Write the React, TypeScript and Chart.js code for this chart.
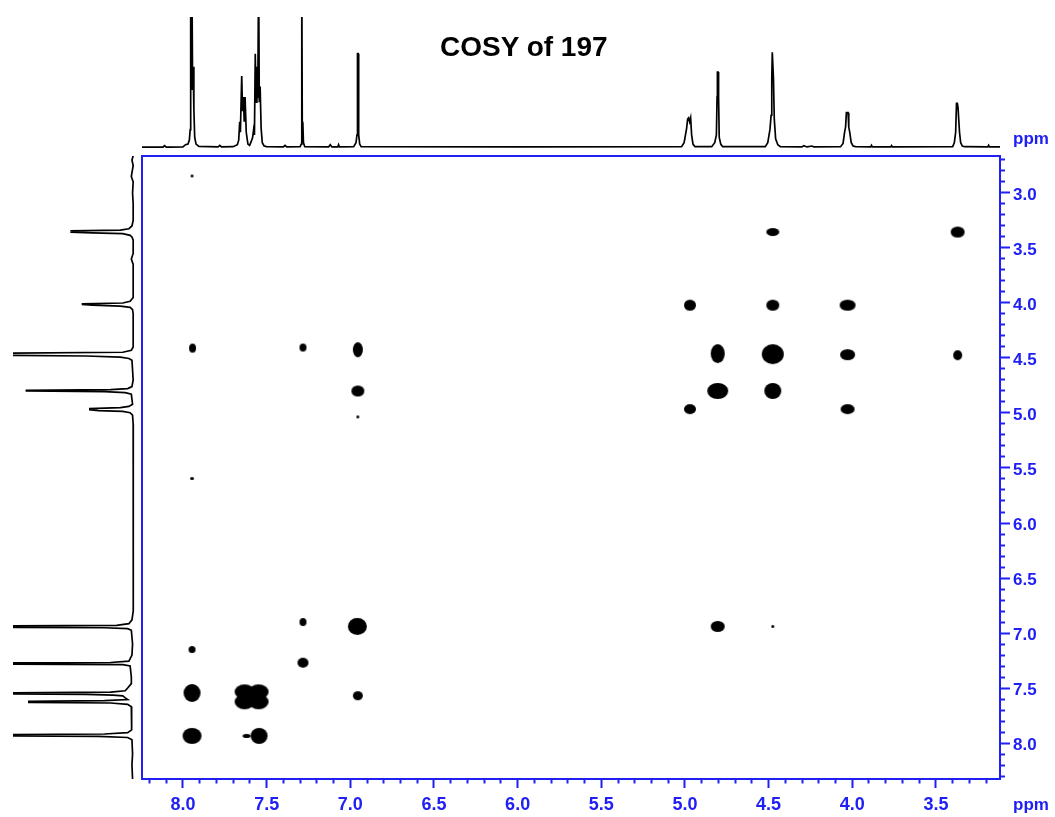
import React, { useEffect, useRef } from "react";
import { Chart, registerables } from "chart.js";

Chart.register(...registerables);

// ---------- Axis ranges (ppm) ----------
const F2_MIN = 3.117;
const F2_MAX = 8.245;
const F1_MIN = 2.664;
const F1_MAX = 8.327;

// ---------- Tick labels ----------
const xMajorTicks = [8.0, 7.5, 7.0, 6.5, 6.0, 5.5, 5.0, 4.5, 4.0, 3.5];
const yMajorTicks = [3.0, 3.5, 4.0, 4.5, 5.0, 5.5, 6.0, 6.5, 7.0, 7.5, 8.0];
const xTickFrom = 8.2;
const xTickTo = 3.2;
const yTickFrom = 2.7;
const yTickTo = 8.3;

// ---------- COSY cross peaks (F2 ppm, F1 ppm, widths in ppm) ----------
const crossF2 = [
  7.946, 4.475, 3.37, 4.97, 4.475, 4.028, 7.943, 7.283, 6.955, 4.804, 4.475, 4.028,
  3.37, 6.955, 4.804, 4.475, 4.97, 4.028, 6.955, 7.946, 7.283, 6.958, 4.804, 4.475,
  7.946, 7.283, 7.946, 7.632, 7.548, 7.632, 7.548, 6.955, 7.946, 7.545, 7.62,
];
const crossF1 = [
  2.845, 3.355, 3.355, 4.02, 4.02, 4.02, 4.41, 4.405, 4.425, 4.46, 4.465, 4.47,
  4.475, 4.8, 4.8, 4.8, 4.965, 4.965, 5.035, 5.595, 6.9, 6.94, 6.94, 6.94,
  7.15, 7.27, 7.545, 7.535, 7.535, 7.625, 7.625, 7.57, 7.935, 7.935, 7.935,
];
const crossWidthF2 = [
  0.018, 0.08, 0.086, 0.074, 0.08, 0.098, 0.044, 0.044, 0.062, 0.086, 0.133, 0.092,
  0.056, 0.08, 0.128, 0.104, 0.074, 0.086, 0.018, 0.024, 0.044, 0.116, 0.086, 0.018,
  0.044, 0.068, 0.104, 0.12, 0.12, 0.12, 0.12, 0.062, 0.116, 0.104, 0.05,
];
const crossWidthF1 = [
  0.027, 0.075, 0.102, 0.102, 0.102, 0.102, 0.084, 0.075, 0.138, 0.175, 0.184, 0.102,
  0.093, 0.102, 0.147, 0.147, 0.093, 0.093, 0.027, 0.027, 0.075, 0.157, 0.102, 0.027,
  0.066, 0.093, 0.166, 0.14, 0.14, 0.14, 0.14, 0.084, 0.147, 0.147, 0.038,
];

// ---------- 1D projection along F2 (top): [ppm, intensity %] ----------
const topSpectrum: [number, number][] = [
  [8.245, 0.6], [8.12, 0.6], [8.11, 1.8], [8.1, 0.6], [8.0, 0.8], [7.985, 2.5], [7.97, 3],
  [7.962, 6], [7.957, 14], [7.954, 135], [7.95, 45], [7.947, 135], [7.943, 55], [7.939, 62],
  [7.935, 30], [7.93, 8], [7.922, 3], [7.905, 1.2], [7.79, 0.8], [7.78, 2], [7.77, 0.8],
  [7.7, 1], [7.675, 2.5], [7.667, 6], [7.661, 20], [7.657, 12], [7.649, 55], [7.644, 28],
  [7.639, 39], [7.634, 20], [7.629, 39], [7.622, 12], [7.612, 3], [7.602, 2], [7.592, 5],
  [7.584, 8], [7.578, 14], [7.573, 10], [7.568, 72], [7.563, 35], [7.558, 62], [7.553, 38],
  [7.548, 135], [7.544, 35], [7.539, 47], [7.533, 15], [7.526, 4], [7.515, 1.5], [7.5, 1],
  [7.4, 0.8], [7.39, 2], [7.38, 0.8], [7.3, 1], [7.293, 3], [7.29, 135], [7.287, 12],
  [7.284, 20], [7.28, 4], [7.272, 1], [7.13, 0.8], [7.12, 2.5], [7.11, 0.8], [7.075, 0.8],
  [7.07, 2.5], [7.065, 0.8], [6.98, 1], [6.966, 4], [6.96, 10], [6.957, 72], [6.953, 72],
  [6.95, 10], [6.944, 3], [6.935, 1], [6.0, 0.8], [5.02, 1], [5.005, 4], [4.99, 15],
  [4.984, 22], [4.978, 23], [4.972, 20], [4.966, 23], [4.96, 10], [4.952, 3], [4.94, 1],
  [4.84, 1], [4.822, 4], [4.812, 10], [4.808, 39], [4.806, 58], [4.802, 58], [4.799, 39],
  [4.795, 8], [4.786, 3], [4.775, 1], [4.52, 1], [4.505, 4], [4.492, 14], [4.485, 25],
  [4.481, 53], [4.478, 73], [4.474, 73], [4.471, 53], [4.466, 22], [4.458, 7], [4.445, 2.5],
  [4.43, 1], [4.3, 0.8], [4.29, 1.8], [4.27, 0.8], [4.24, 1.5], [4.23, 0.8], [4.07, 1],
  [4.055, 3.5], [4.046, 12], [4.04, 16], [4.035, 27], [4.03, 27], [4.025, 27], [4.021, 16],
  [4.015, 12], [4.006, 4], [3.995, 1.5], [3.98, 1], [3.89, 0.8], [3.885, 2], [3.88, 0.8],
  [3.77, 0.8], [3.765, 1.8], [3.76, 0.8], [3.4, 1], [3.39, 4], [3.382, 12], [3.377, 34],
  [3.372, 34], [3.368, 31], [3.364, 31], [3.359, 12], [3.352, 4], [3.342, 1.5], [3.33, 1],
  [3.19, 0.8], [3.185, 2], [3.18, 0.8], [3.117, 0.8],
];

// ---------- 1D projection along F1 (left): [ppm, intensity %] ----------
const leftSpectrum: [number, number][] = [
  [2.664, 1.5], [2.7, 2.5], [2.75, 1.5], [2.85, 3], [2.9, 1.5], [3.0, 2], [3.1, 1.5],
  [3.25, 1.5], [3.3, 2.5], [3.325, 5], [3.338, 12], [3.345, 53], [3.35, 48], [3.356, 53],
  [3.362, 35], [3.37, 10], [3.385, 4], [3.4, 2.5], [3.43, 1.5], [3.55, 1.5], [3.6, 3],
  [3.65, 1.5], [3.95, 1.5], [3.985, 4], [4.0, 10], [4.008, 43], [4.014, 43], [4.02, 35],
  [4.028, 12], [4.04, 4], [4.06, 2], [4.1, 1.5], [4.4, 1.5], [4.43, 3], [4.448, 10],
  [4.458, 135], [4.466, 135], [4.474, 135], [4.482, 40], [4.492, 12], [4.505, 5], [4.52, 2.5],
  [4.7, 1.5], [4.76, 2.5], [4.778, 6], [4.788, 20], [4.794, 89], [4.8, 89], [4.806, 25],
  [4.815, 8], [4.83, 3], [4.92, 2], [4.94, 5], [4.952, 12], [4.96, 37], [4.97, 37],
  [4.978, 30], [4.986, 10], [4.998, 4], [5.02, 2], [5.1, 1.5], [5.5, 1.2], [6.0, 1.5],
  [6.5, 1.5], [6.8, 1.5], [6.88, 2.5], [6.915, 5], [6.93, 15], [6.938, 135], [6.946, 135],
  [6.952, 25], [6.96, 6], [6.975, 3], [7.1, 2], [7.2, 2.5], [7.255, 5], [7.268, 20],
  [7.274, 135], [7.281, 135], [7.287, 10], [7.3, 4], [7.4, 3], [7.46, 3], [7.5, 6],
  [7.525, 8], [7.538, 20], [7.545, 135], [7.552, 135], [7.558, 40], [7.565, 18], [7.572, 10],
  [7.59, 8], [7.605, 6], [7.615, 25], [7.622, 87], [7.63, 87], [7.636, 20], [7.648, 6],
  [7.67, 3], [7.8, 2.5], [7.88, 3], [7.905, 6], [7.918, 25], [7.926, 135], [7.934, 135],
  [7.94, 30], [7.95, 6], [7.97, 2.5], [8.1, 2], [8.2, 2.5], [8.327, 2],
];

// ---------- Styles ----------
const BLUE = "#2020f5";
const FONT = "'Liberation Sans', Arial, sans-serif";

function tickRange(from: number, to: number): number[] {
  const out: number[] = [];
  const a = Math.round(Math.min(from, to) * 10);
  const b = Math.round(Math.max(from, to) * 10);
  for (let k = a; k <= b; k++) out.push(k / 10);
  return out;
}

function isMajor(v: number, majors: number[]) {
  return majors.some((m) => Math.abs(m - v) < 1e-6);
}

const blobCache = new Map<string, HTMLCanvasElement>();
function blob(w: number, h: number): HTMLCanvasElement {
  const W = Math.max(2, Math.round(w));
  const H = Math.max(2, Math.round(h));
  const key = W + "x" + H;
  let c = blobCache.get(key);
  if (!c) {
    c = document.createElement("canvas");
    c.width = W + 2;
    c.height = H + 2;
    const g = c.getContext("2d")!;
    g.fillStyle = "#000";
    g.beginPath();
    g.ellipse((W + 2) / 2, (H + 2) / 2, W / 2, H / 2, 0, 0, Math.PI * 2);
    g.fill();
    blobCache.set(key, c);
  }
  return c;
}

export default function App() {
  const mainRef = useRef<HTMLCanvasElement>(null);
  const topRef = useRef<HTMLCanvasElement>(null);
  const leftRef = useRef<HTMLCanvasElement>(null);

  useEffect(() => {
    const xTicks = tickRange(xTickFrom, xTickTo);
    const yTicks = tickRange(yTickFrom, yTickTo);

    const tickFont = (size: number) => ({ family: FONT, size, weight: "bold" as const });

    const main = new Chart(mainRef.current!, {
      type: "scatter",
      data: {
        datasets: [
          {
            data: crossF2.map((x, i) => ({ x, y: crossF1[i] })),
            pointRadius: 5,
            pointHoverRadius: 5,
            backgroundColor: "#000",
            borderColor: "#000",
            borderWidth: 0,
            pointStyle: (ctx: any) => {
              const i = ctx.dataIndex;
              const xs = ctx.chart.scales.x;
              const ys = ctx.chart.scales.y;
              if (i === undefined || !xs || !ys || !xs.width || !ys.height) return "circle";
              const w = Math.abs(
                xs.getPixelForValue(crossF2[i] - crossWidthF2[i] / 2) -
                  xs.getPixelForValue(crossF2[i] + crossWidthF2[i] / 2)
              );
              const h = Math.abs(
                ys.getPixelForValue(crossF1[i] - crossWidthF1[i] / 2) -
                  ys.getPixelForValue(crossF1[i] + crossWidthF1[i] / 2)
              );
              if (!isFinite(w) || !isFinite(h)) return "circle";
              return blob(w, h);
            },
          } as any,
        ],
      },
      options: {
        animation: false,
        responsive: false,
        maintainAspectRatio: false,
        events: [],
        layout: { padding: { left: 142, top: 156, right: 0, bottom: 0 }, autoPadding: false },
        plugins: { legend: { display: false }, tooltip: { enabled: false }, title: { display: false } },
        scales: {
          x: {
            type: "linear",
            position: "bottom",
            reverse: true,
            min: F2_MIN,
            max: F2_MAX,
            afterBuildTicks: (s: any) => {
              s.ticks = xTicks.map((v) => ({ value: v }));
            },
            afterFit: (s: any) => {
              s.height = 38;
            },
            ticks: {
              autoSkip: false,
              maxRotation: 0,
              minRotation: 0,
              padding: 6,
              color: BLUE,
              font: tickFont(18),
              callback: (v: any) => (isMajor(Number(v), xMajorTicks) ? Number(v).toFixed(1) : ""),
            },
            grid: {
              display: true,
              drawOnChartArea: false,
              drawTicks: true,
              tickLength: 9,
              tickColor: BLUE,
              tickWidth: 2,
              tickBorderDash: (ctx: any) =>
                ctx.tick && isMajor(ctx.tick.value, xMajorTicks) ? [] : [3.5, 60],
            },
            border: { display: true, color: BLUE, width: 2 },
          },
          y: {
            type: "linear",
            position: "right",
            reverse: true,
            min: F1_MIN,
            max: F1_MAX,
            afterBuildTicks: (s: any) => {
              s.ticks = yTicks.map((v) => ({ value: v }));
            },
            afterFit: (s: any) => {
              s.width = 55;
            },
            ticks: {
              autoSkip: false,
              padding: 3,
              labelOffset: 2,
              color: BLUE,
              font: tickFont(17),
              callback: (v: any) => (isMajor(Number(v), yMajorTicks) ? Number(v).toFixed(1) : ""),
            },
            grid: {
              display: true,
              drawOnChartArea: false,
              drawTicks: true,
              tickLength: 10,
              tickColor: BLUE,
              tickWidth: 2,
              tickBorderDash: (ctx: any) =>
                ctx.tick && isMajor(ctx.tick.value, yMajorTicks) ? [] : [4, 60],
            },
            border: { display: true, color: BLUE, width: 2 },
          },
          xTop: {
            type: "linear",
            axis: "x",
            position: "top",
            afterFit: (s: any) => {
              s.height = 0;
            },
            ticks: { display: false },
            grid: { display: true, drawOnChartArea: false, drawTicks: false },
            border: { display: true, color: BLUE, width: 2 },
          },
          yLeft: {
            type: "linear",
            axis: "y",
            position: "left",
            afterFit: (s: any) => {
              s.width = 0;
            },
            ticks: { display: false },
            grid: { display: true, drawOnChartArea: false, drawTicks: false },
            border: { display: true, color: BLUE, width: 2 },
          },
        } as any,
      },
    });

    const top = new Chart(topRef.current!, {
      type: "scatter",
      data: {
        datasets: [
          {
            data: topSpectrum.map(([x, y]) => ({ x, y })),
            showLine: true,
            borderColor: "#000",
            borderWidth: 1.7,
            pointRadius: 0,
            tension: 0,
          } as any,
        ],
      },
      options: {
        animation: false,
        responsive: false,
        maintainAspectRatio: false,
        events: [],
        layout: { padding: { left: 142, right: 55, top: 17, bottom: 7 }, autoPadding: false },
        plugins: { legend: { display: false }, tooltip: { enabled: false } },
        scales: {
          x: { type: "linear", display: false, reverse: true, min: F2_MIN, max: F2_MAX },
          y: { type: "linear", display: false, min: 0, max: 100 },
        },
      },
    });

    const left = new Chart(leftRef.current!, {
      type: "scatter",
      data: {
        datasets: [
          {
            data: leftSpectrum.map(([p, v]) => ({ x: v, y: p })),
            showLine: true,
            borderColor: "#000",
            borderWidth: 1.7,
            pointRadius: 0,
            tension: 0,
          } as any,
        ],
      },
      options: {
        animation: false,
        responsive: false,
        maintainAspectRatio: false,
        events: [],
        layout: { padding: { left: 13, right: 7, top: 156, bottom: 38 }, autoPadding: false },
        plugins: { legend: { display: false }, tooltip: { enabled: false } },
        scales: {
          x: { type: "linear", display: false, reverse: true, min: 0, max: 100 },
          y: { type: "linear", display: false, reverse: true, min: F1_MIN, max: F1_MAX },
        },
      },
    });

    return () => {
      main.destroy();
      top.destroy();
      left.destroy();
    };
  }, []);

  const abs = (l: number, t: number, w: number, h: number): React.CSSProperties => ({
    position: "absolute",
    left: l,
    top: t,
    width: w,
    height: h,
  });

  return (
    <div style={{ position: "absolute", left: 0, top: 0, width: 1055, height: 817, background: "#fff", overflow: "hidden" }}>
      <canvas ref={topRef} width={1055} height={155} style={abs(0, 0, 1055, 155)} />
      <canvas ref={leftRef} width={142} height={817} style={abs(0, 0, 142, 817)} />
      <canvas ref={mainRef} width={1055} height={817} style={abs(0, 0, 1055, 817)} />
      <div
        style={{
          position: "absolute",
          left: 440,
          top: 33,
          fontFamily: FONT,
          fontWeight: "bold",
          fontSize: 28,
          lineHeight: "28px",
          color: "#000",
          whiteSpace: "nowrap",
        }}
      >
        COSY of 197
      </div>
      <div
        style={{
          position: "absolute",
          left: 1013,
          top: 130,
          fontFamily: FONT,
          fontWeight: "bold",
          fontSize: 17,
          lineHeight: "17px",
          color: BLUE,
        }}
      >
        ppm
      </div>
      <div
        style={{
          position: "absolute",
          left: 1013,
          top: 796,
          fontFamily: FONT,
          fontWeight: "bold",
          fontSize: 17,
          lineHeight: "17px",
          color: BLUE,
        }}
      >
        ppm
      </div>
    </div>
  );
}
